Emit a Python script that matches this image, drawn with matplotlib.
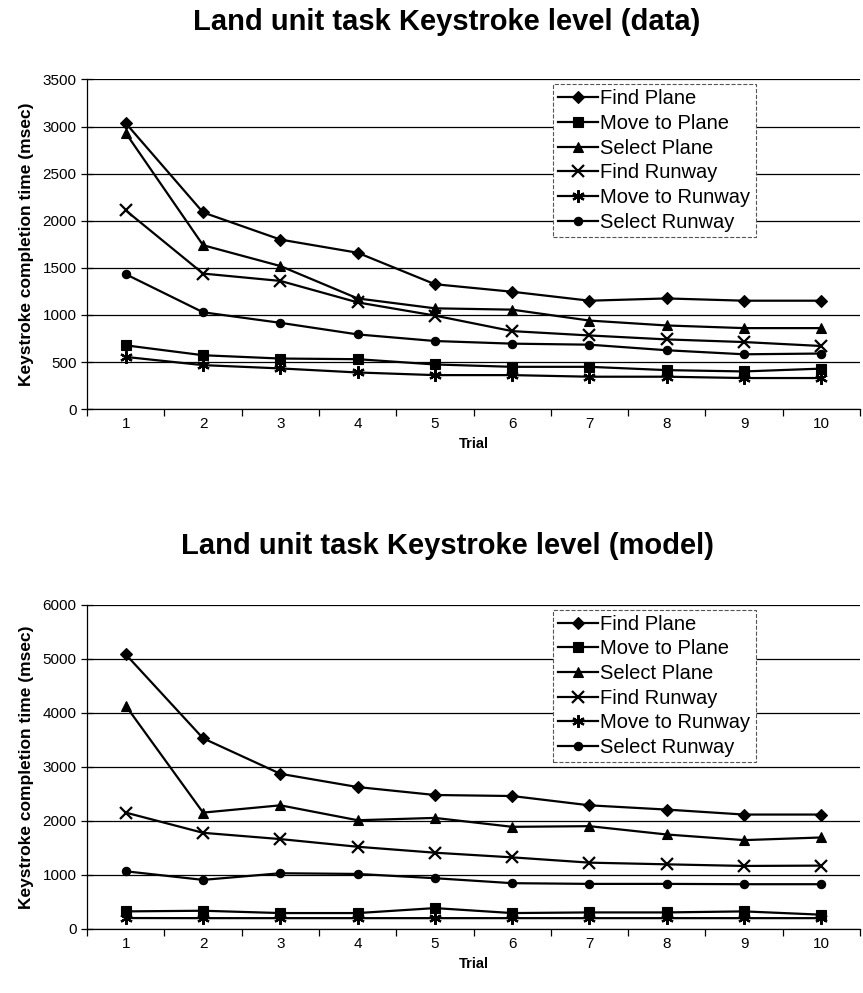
import matplotlib
matplotlib.use("Agg")
import matplotlib.pyplot as plt

plt.rcParams['font.family'] = ['Liberation Sans', 'DejaVu Sans']

trials = [1, 2, 3, 4, 5, 6, 7, 8, 9, 10]
series_names = ["Find Plane", "Move to Plane", "Select Plane", "Find Runway", "Move to Runway", "Select Runway"]

data_find_plane = [3035, 2088, 1800, 1660, 1326, 1246, 1151, 1175, 1151, 1151]
data_move_plane = [677, 572, 537, 530, 474, 449, 449, 414, 400, 430]
data_select_plane = [2930, 1740, 1519, 1175, 1070, 1056, 940, 888, 860, 860]
data_find_runway = [2109, 1439, 1361, 1133, 993, 828, 782, 740, 712, 670]
data_move_runway = [554, 467, 432, 389, 361, 361, 344, 344, 330, 330]
data_select_runway = [1432, 1028, 916, 793, 723, 695, 684, 625, 582, 590]

model_find_plane = [5080, 3528, 2871, 2626, 2479, 2460, 2288, 2209, 2117, 2117]
model_move_plane = [325, 337, 294, 294, 386, 294, 306, 306, 325, 264]
model_select_plane = [4129, 2153, 2288, 2012, 2055, 1890, 1902, 1748, 1644, 1693]
model_find_runway = [2153, 1779, 1663, 1521, 1411, 1325, 1227, 1196, 1166, 1172]
model_move_runway = [202, 200, 200, 200, 200, 200, 200, 200, 200, 200]
model_select_runway = [1067, 908, 1031, 1018, 939, 847, 834, 834, 828, 828]

markers = ['D', 's', '^', 'x', (6, 2, 0), 'o']
msizes = [6, 7, 7, 8, 9, 6]

fig = plt.figure(figsize=(8.63, 9.93), dpi=100)

def draw(ax, series, ymax, ystep, bbox):
    ax.set_xlim(0.5, 10.5)
    ax.set_ylim(0, ymax)
    ax.set_yticks(range(0, ymax + 1, ystep))
    ax.yaxis.grid(True, color='black', linewidth=0.9)
    ax.set_axisbelow(True)
    for vals, name, m, ms in zip(series, series_names, markers, msizes):
        ax.plot(trials, vals, color='black', linewidth=1.6, marker=m, markersize=ms,
                markeredgewidth=1.6 if m == 'x' or isinstance(m, tuple) else 0.8,
                label=name)
    ax.set_xticks([x + 0.5 for x in range(0, 11)])
    ax.set_xticklabels([])
    ax.set_xticks(trials, minor=True)
    ax.set_xticklabels([str(t) for t in trials], minor=True, fontsize=11)
    ax.tick_params(axis='x', which='major', direction='out', length=5, width=0.9)
    ax.tick_params(axis='x', which='minor', length=0, pad=6)
    ax.tick_params(axis='y', direction='inout', length=8, width=0.9, labelsize=11)
    for s in ['top', 'right']:
        ax.spines[s].set_visible(False)
    ax.spines['left'].set_linewidth(0.9)
    ax.spines['bottom'].set_linewidth(0.9)
    ax.set_xlabel("Trial", fontsize=10.5, fontweight='bold', labelpad=4)
    ax.set_ylabel("Keystroke completion time (msec)", fontsize=12.5, fontweight='bold', labelpad=6)
    leg = ax.legend(loc='upper left', bbox_to_anchor=bbox, fontsize=14.5, frameon=True,
                    fancybox=False, handlelength=2.0, handletextpad=0.1,
                    labelspacing=0.28, borderpad=0.25, borderaxespad=0)
    fr = leg.get_frame()
    fr.set_edgecolor('#555555')
    fr.set_linestyle('--')
    fr.set_linewidth(0.8)
    fr.set_facecolor('white')
    fr.set_alpha(1)

ax1 = fig.add_axes([0.101, 0.588, 0.8955, 0.332])
draw(ax1, [data_find_plane, data_move_plane, data_select_plane, data_find_runway,
           data_move_runway, data_select_runway], 3500, 500, (0.603, 0.985))
fig.text(0.518, 0.978, "Land unit task Keystroke level (data)", fontsize=21,
         fontweight='bold', ha='center', va='center')

ax2 = fig.add_axes([0.101, 0.0645, 0.8955, 0.3265])
draw(ax2, [model_find_plane, model_move_plane, model_select_plane, model_find_runway,
           model_move_runway, model_select_runway], 6000, 1000, (0.603, 0.985))
fig.text(0.518, 0.450, "Land unit task Keystroke level (model)", fontsize=21,
         fontweight='bold', ha='center', va='center')

fig.savefig("out.png", dpi=100)
